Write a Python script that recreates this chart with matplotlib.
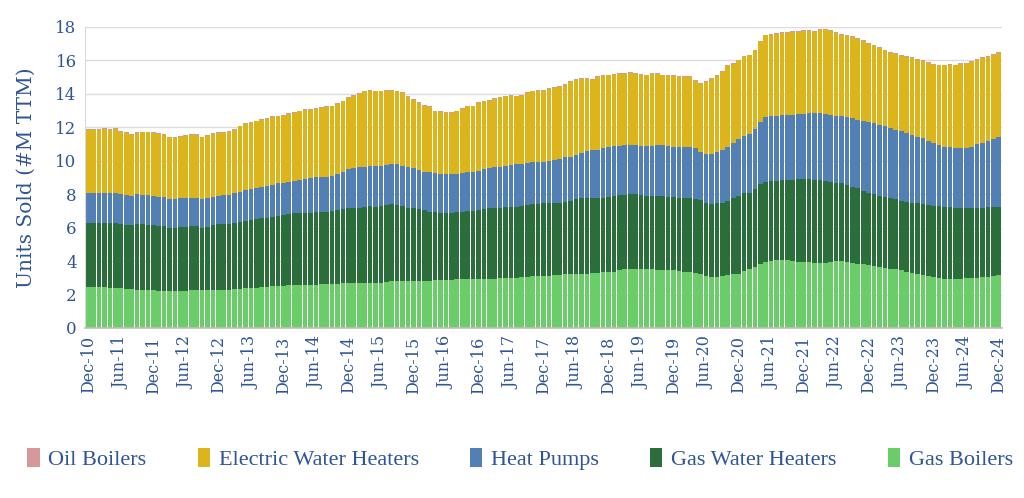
import matplotlib
matplotlib.use("Agg")
import matplotlib.pyplot as plt
import pandas as pd

# monthly categories, Dec-10 .. Dec-24
months = pd.date_range("2010-12-01", "2024-12-01", freq="MS").strftime("%b-%y").tolist()

# units sold, #M trailing twelve months
gas_boilers = [
    2.45, 2.45, 2.45, 2.45, 2.4, 2.4, 2.4, 2.35, 2.35, 2.3, 2.3, 2.25, 2.25, 2.2, 2.2, 2.2, 2.2, 2.2, 2.2, 2.25, 2.25, 2.25, 2.25, 2.3, 2.3,
    2.3, 2.3, 2.35, 2.35, 2.4, 2.4, 2.4, 2.45, 2.45, 2.5, 2.5, 2.5, 2.55, 2.55, 2.6, 2.6, 2.6, 2.6, 2.65, 2.65, 2.65, 2.65, 2.7, 2.7,
    2.7, 2.7, 2.7, 2.7, 2.7, 2.7, 2.75, 2.8, 2.8, 2.8, 2.8, 2.8, 2.8, 2.8, 2.8, 2.85, 2.85, 2.85, 2.85, 2.9, 2.9, 2.9, 2.9, 2.9,
    2.95, 2.95, 2.95, 3.0, 3.0, 3.0, 3.0, 3.05, 3.05, 3.1, 3.1, 3.1, 3.1, 3.15, 3.15, 3.2, 3.2, 3.2, 3.25, 3.25, 3.3, 3.3, 3.35, 3.35,
    3.35, 3.45, 3.5, 3.5, 3.55, 3.55, 3.5, 3.5, 3.45, 3.45, 3.45, 3.45, 3.4, 3.35, 3.35, 3.3, 3.2, 3.1, 3.05, 3.05, 3.1, 3.15, 3.2, 3.25,
    3.4, 3.55, 3.65, 3.85, 3.95, 4.0, 4.05, 4.05, 4.05, 4.0, 3.95, 3.95, 3.95, 3.9, 3.9, 3.9, 3.95, 4.0, 4.0, 3.95, 3.9, 3.85, 3.8, 3.75,
    3.7, 3.65, 3.6, 3.55, 3.5, 3.45, 3.35, 3.3, 3.2, 3.15, 3.1, 3.05, 3.0, 2.95, 2.95, 2.95, 2.95, 3.0, 3.0, 3.0, 3.05, 3.05, 3.1, 3.15,
]

gas_water_heaters = [
    3.85, 3.85, 3.85, 3.85, 3.9, 3.85, 3.8, 3.8, 3.8, 3.9, 3.9, 3.9, 3.9, 3.9, 3.9, 3.8, 3.8, 3.85, 3.85, 3.85, 3.85, 3.75, 3.8, 3.85, 3.9,
    3.9, 3.9, 3.95, 4.0, 4.0, 4.05, 4.1, 4.1, 4.15, 4.15, 4.2, 4.25, 4.25, 4.3, 4.25, 4.3, 4.3, 4.35, 4.3, 4.3, 4.35, 4.4, 4.4, 4.45,
    4.5, 4.5, 4.55, 4.6, 4.55, 4.6, 4.6, 4.6, 4.55, 4.5, 4.4, 4.35, 4.3, 4.25, 4.15, 4.1, 4.05, 4.05, 4.05, 4.05, 4.05, 4.1, 4.1, 4.15,
    4.15, 4.2, 4.2, 4.2, 4.25, 4.25, 4.25, 4.25, 4.3, 4.3, 4.3, 4.35, 4.35, 4.35, 4.35, 4.35, 4.4, 4.5, 4.5, 4.5, 4.45, 4.45, 4.45, 4.5,
    4.55, 4.5, 4.45, 4.5, 4.45, 4.4, 4.4, 4.4, 4.45, 4.45, 4.4, 4.4, 4.4, 4.45, 4.4, 4.4, 4.45, 4.4, 4.35, 4.4, 4.4, 4.45, 4.55, 4.65,
    4.65, 4.55, 4.65, 4.75, 4.8, 4.8, 4.75, 4.8, 4.8, 4.85, 4.95, 4.95, 4.95, 4.95, 4.95, 4.9, 4.8, 4.7, 4.65, 4.6, 4.55, 4.5, 4.4, 4.3,
    4.3, 4.25, 4.25, 4.2, 4.2, 4.15, 4.2, 4.2, 4.25, 4.25, 4.25, 4.25, 4.3, 4.3, 4.3, 4.25, 4.25, 4.2, 4.15, 4.2, 4.15, 4.2, 4.15, 4.1,
]

heat_pumps = [
    1.75, 1.75, 1.8, 1.8, 1.8, 1.85, 1.8, 1.8, 1.75, 1.8, 1.75, 1.8, 1.75, 1.75, 1.75, 1.7, 1.7, 1.7, 1.7, 1.7, 1.7, 1.7, 1.7, 1.7, 1.7,
    1.75, 1.75, 1.75, 1.8, 1.85, 1.85, 1.9, 1.9, 1.9, 1.9, 1.95, 1.95, 1.95, 1.95, 2.0, 2.0, 2.05, 2.05, 2.05, 2.1, 2.1, 2.15, 2.2, 2.35,
    2.35, 2.4, 2.4, 2.4, 2.45, 2.4, 2.4, 2.4, 2.45, 2.4, 2.4, 2.4, 2.35, 2.3, 2.4, 2.3, 2.3, 2.3, 2.3, 2.25, 2.3, 2.3, 2.3, 2.35,
    2.4, 2.4, 2.45, 2.45, 2.45, 2.5, 2.55, 2.5, 2.5, 2.5, 2.55, 2.5, 2.55, 2.55, 2.6, 2.65, 2.65, 2.65, 2.7, 2.85, 2.9, 2.9, 2.95, 2.95,
    3.0, 2.95, 3.0, 2.95, 2.95, 2.95, 3.0, 3.0, 3.05, 3.05, 3.05, 3.0, 3.05, 3.0, 3.05, 3.05, 2.9, 2.9, 3.0, 3.05, 3.15, 3.2, 3.3, 3.4,
    3.45, 3.5, 3.6, 3.7, 3.85, 3.9, 3.9, 3.9, 3.9, 3.9, 3.9, 3.9, 3.95, 4.0, 4.0, 4.0, 4.0, 4.0, 4.0, 4.05, 4.1, 4.1, 4.2, 4.25,
    4.25, 4.25, 4.2, 4.2, 4.15, 4.2, 4.1, 4.05, 4.0, 3.95, 3.85, 3.75, 3.65, 3.6, 3.55, 3.55, 3.55, 3.55, 3.7, 3.8, 3.85, 3.95, 4.05, 4.15,
]

electric_water_heaters = [
    3.8, 3.8, 3.75, 3.8, 3.75, 3.8, 3.75, 3.7, 3.65, 3.65, 3.75, 3.75, 3.75, 3.75, 3.7, 3.7, 3.65, 3.7, 3.75, 3.75, 3.75, 3.7, 3.75, 3.75, 3.75,
    3.7, 3.8, 3.8, 3.9, 3.95, 3.95, 3.95, 4.0, 4.0, 4.05, 4.0, 4.0, 4.05, 4.05, 4.1, 4.15, 4.1, 4.1, 4.15, 4.15, 4.15, 4.2, 4.25, 4.25,
    4.35, 4.4, 4.5, 4.5, 4.45, 4.45, 4.45, 4.4, 4.35, 4.35, 4.2, 4.1, 4.0, 3.95, 3.85, 3.7, 3.7, 3.65, 3.65, 3.75, 3.85, 3.95, 3.95, 4.05,
    4.05, 4.05, 4.1, 4.1, 4.15, 4.15, 4.05, 4.1, 4.2, 4.25, 4.25, 4.25, 4.3, 4.3, 4.3, 4.35, 4.45, 4.5, 4.45, 4.3, 4.2, 4.35, 4.3, 4.3,
    4.25, 4.3, 4.25, 4.3, 4.25, 4.25, 4.2, 4.3, 4.25, 4.15, 4.15, 4.2, 4.15, 4.2, 4.2, 4.05, 4.05, 4.3, 4.5, 4.55, 4.65, 4.85, 4.75, 4.7,
    4.7, 4.7, 4.7, 4.8, 4.9, 4.85, 4.9, 4.9, 4.9, 4.95, 4.9, 4.95, 4.9, 4.85, 4.95, 5.05, 5.0, 4.95, 4.9, 4.85, 4.85, 4.85, 4.75, 4.7,
    4.65, 4.6, 4.55, 4.5, 4.55, 4.45, 4.55, 4.6, 4.6, 4.6, 4.65, 4.7, 4.75, 4.85, 4.95, 4.95, 5.05, 5.05, 5.05, 5.05, 5.1, 5.0, 5.05, 5.05,
]

oil_boilers = [
    0.05, 0.05, 0.05, 0.05, 0.05, 0.05, 0.05, 0.05, 0.05, 0.05, 0.05, 0.05, 0.05, 0.05, 0.05, 0.05, 0.05, 0.05, 0.05, 0.05, 0.05, 0.05, 0.05, 0.05, 0.05,
    0.05, 0.05, 0.05, 0.05, 0.05, 0.05, 0.05, 0.05, 0.05, 0.05, 0.05, 0.05, 0.05, 0.05, 0.05, 0.05, 0.05, 0.05, 0.05, 0.05, 0.05, 0.05, 0.05, 0.05,
    0.05, 0.05, 0.05, 0.05, 0.05, 0.05, 0.05, 0.05, 0.05, 0.05, 0.05, 0.05, 0.05, 0.05, 0.05, 0.05, 0.05, 0.05, 0.05, 0.05, 0.05, 0.05, 0.05, 0.05,
    0.05, 0.05, 0.05, 0.05, 0.05, 0.05, 0.05, 0.05, 0.05, 0.05, 0.05, 0.05, 0.05, 0.05, 0.05, 0.05, 0.05, 0.05, 0.05, 0.05, 0.05, 0.05, 0.05, 0.05,
    0.05, 0.05, 0.05, 0.05, 0.05, 0.05, 0.05, 0.05, 0.05, 0.05, 0.05, 0.05, 0.05, 0.05, 0.05, 0.05, 0.05, 0.05, 0.05, 0.05, 0.05, 0.05, 0.05, 0.05,
    0.05, 0.05, 0.05, 0.05, 0.05, 0.05, 0.05, 0.05, 0.05, 0.05, 0.05, 0.05, 0.05, 0.05, 0.05, 0.05, 0.05, 0.05, 0.05, 0.05, 0.05, 0.05, 0.05, 0.05,
    0.05, 0.05, 0.05, 0.05, 0.05, 0.05, 0.05, 0.05, 0.05, 0.05, 0.05, 0.05, 0.05, 0.05, 0.05, 0.05, 0.05, 0.05, 0.05, 0.05, 0.05, 0.05, 0.05, 0.05,
]

# stacked from the bottom up
series = [
    ("Gas Boilers", gas_boilers, "#6acd6a"),
    ("Gas Water Heaters", gas_water_heaters, "#2b6e3b"),
    ("Heat Pumps", heat_pumps, "#5280b4"),
    ("Electric Water Heaters", electric_water_heaters, "#dbb51b"),
    ("Oil Boilers", oil_boilers, "#d49a9a"),
]

TEXT = "#2f5597"

fig = plt.figure(figsize=(10.24, 4.98), dpi=100)
ax = fig.add_axes([0.083, 0.3414, 0.8955, 0.6044])

x = list(range(len(months)))
bottom = [0.0] * len(months)
bars = {}
for name, vals, col in series:
    bars[name] = ax.bar(x, vals, width=0.86, bottom=bottom, color=col, linewidth=0)
    bottom = [b + v for b, v in zip(bottom, vals)]

ax.set_xlim(-0.6, len(months) - 0.4)
ax.set_ylim(0, 18)
ax.set_yticks(range(0, 19, 2))
ax.set_xticks(x[::6])
ax.set_xticklabels(months[::6], rotation=90, fontsize=11.5, family="DejaVu Serif", color=TEXT)
for lab in ax.get_yticklabels():
    lab.set_family("DejaVu Serif")
    lab.set_fontsize(12)
    lab.set_color(TEXT)
ax.tick_params(length=0, pad=6)
ax.set_ylabel("Units Sold (#M TTM)", fontsize=14.5, family="DejaVu Serif", color=TEXT, labelpad=14)

ax.grid(axis="y", color="#dcdcdc", linewidth=1)
ax.set_axisbelow(True)
for s in ["top", "right"]:
    ax.spines[s].set_visible(False)
ax.spines["left"].set_color("#d9d9d9")
ax.spines["bottom"].set_color("#bfbfbf")
ax.spines["bottom"].set_linewidth(1.2)

order = ["Oil Boilers", "Electric Water Heaters", "Heat Pumps", "Gas Water Heaters", "Gas Boilers"]
leg = fig.legend([bars[n] for n in order], order, loc="center", bbox_to_anchor=(0.508, 0.078),
                 ncol=5, frameon=False, handlelength=0.55, handleheight=0.9, handletextpad=0.4,
                 columnspacing=2.3, prop={"family": "Liberation Serif", "size": 16})
for t in leg.get_texts():
    t.set_color(TEXT)

fig.savefig("out.png", dpi=100)
